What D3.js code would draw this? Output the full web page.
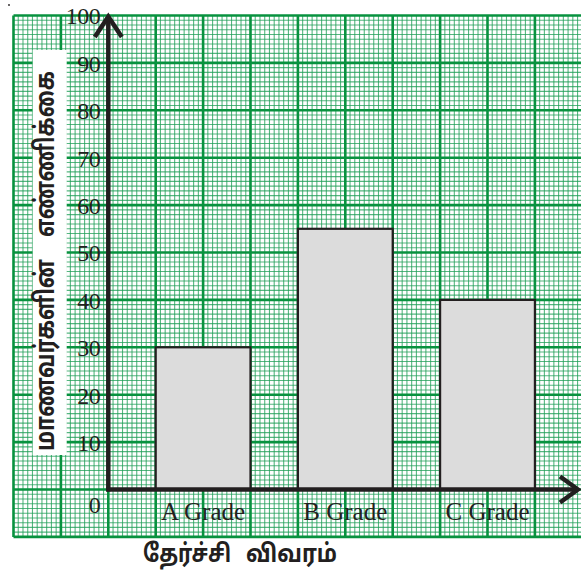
<!DOCTYPE html>
<html>
<head>
<meta charset="utf-8">
<script src="https://cdn.jsdelivr.net/npm/d3@7/dist/d3.min.js"></script>
<style>
  html, body { margin: 0; padding: 0; background: #fff; }
  svg { display: block; }
</style>
</head>
<body>
<svg id="chart" width="581" height="572"></svg>
<script>
// Grades and number of students
const categories = ["A Grade", "B Grade", "C Grade"];
const studentCounts = [30, 55, 40];
const yTickValues = [0, 10, 20, 30, 40, 50, 60, 70, 80, 90, 100];
const yTitleParts = ["மாணவர்களின்", "எண்ணிக்கை"];
const xTitleParts = ["தேர்ச்சி", "விவரம்"];

const svg = d3.select("#chart");
const ink = "#231f20";
const green = "#08923f";

// Value axis: 0 .. 100, one major graph-paper square per 10 students
const y = d3.scaleLinear().domain([0, 100]).range([489.5, 15.5]);
const cell = (y(0) - y(10));          // size of one major square
const axisX = 108.3;

// Category axis: each bar is two squares wide with one square between bars
const x = d3.scaleBand()
  .domain(categories)
  .range([axisX, axisX + 9 * cell])
  .paddingInner(1 / 3)
  .paddingOuter(1 / 6)
  .align(1);

// ---- graph paper ----
const gridLeft = axisX - 2 * cell;
const gridRight = 581;
const gridTop = y(100);
const gridBottom = y(0) + cell;
const grid = svg.append("g");

// minor lines, ten per square
const minorStep = cell / 10;
const nCols = Math.ceil((gridRight - gridLeft) / minorStep);
const nRows = Math.round((gridBottom - gridTop) / minorStep);
const minorX = d3.range(nCols + 1).filter(i => i % 10 !== 0).map(i => gridLeft + i * minorStep);
const minorY = d3.range(nRows + 1).filter(i => i % 10 !== 0).map(i => gridTop + i * minorStep);
grid.selectAll(".mx").data(minorX).join("line")
  .attr("x1", d => d).attr("x2", d => d)
  .attr("y1", gridTop).attr("y2", gridBottom)
  .attr("stroke", "#1e9e55").attr("stroke-opacity", 0.75).attr("stroke-width", 1.1);
grid.selectAll(".my").data(minorY).join("line")
  .attr("x1", gridLeft).attr("x2", gridRight)
  .attr("y1", d => d).attr("y2", d => d)
  .attr("stroke", "#1e9e55").attr("stroke-opacity", 0.75).attr("stroke-width", 1.1);

// major lines
const majorX = d3.range(0, nCols + 1, 10).map(i => gridLeft + i * minorStep);
const majorY = d3.range(0, nRows + 1, 10).map(i => gridTop + i * minorStep);
grid.selectAll(".Mx").data(majorX).join("line")
  .attr("x1", d => d).attr("x2", d => d)
  .attr("y1", gridTop).attr("y2", gridBottom)
  .attr("stroke", green).attr("stroke-width", 2.6);
grid.selectAll(".My").data(majorY).join("line")
  .attr("x1", gridLeft).attr("x2", gridRight)
  .attr("y1", d => d).attr("y2", d => d)
  .attr("stroke", green).attr("stroke-width", 2.6);

// ---- bars ----
svg.append("g").selectAll("rect")
  .data(categories.map((c, i) => ({ c, v: studentCounts[i] })))
  .join("rect")
  .attr("x", d => x(d.c))
  .attr("y", d => y(d.v))
  .attr("width", x.bandwidth())
  .attr("height", d => y(0) - y(d.v))
  .attr("fill", "#dcdcdc")
  .attr("stroke", ink)
  .attr("stroke-width", 2.2);

// ---- axes with arrow heads ----
const axes = svg.append("g").attr("stroke", ink).attr("fill", "none")
  .attr("stroke-width", 4.5);
axes.append("line").attr("x1", axisX).attr("x2", axisX)
  .attr("y1", y(0) + 2).attr("y2", y(100) + 1);
axes.append("polyline")
  .attr("points", `${axisX - 13.5},${y(100) + 21.5} ${axisX},${y(100) + 1} ${axisX + 13.5},${y(100) + 21.5}`)
  .attr("stroke-linejoin", "miter");
axes.append("line").attr("x1", axisX - 2).attr("x2", 578)
  .attr("y1", y(0)).attr("y2", y(0));
axes.append("polyline")
  .attr("points", `560,${y(0) - 13} 578,${y(0)} 560,${y(0) + 13}`)
  .attr("stroke-linejoin", "miter");

// ---- y tick labels ----
const yAxis = d3.axisLeft(y).tickValues(yTickValues).tickSize(0).tickPadding(0);
const yg = svg.append("g").attr("transform", `translate(${axisX - 8},0)`).call(yAxis);
yg.select(".domain").remove();
yg.selectAll("text")
  .attr("font-family", "'Liberation Serif', 'Times New Roman', serif")
  .attr("font-size", 24)
  .attr("fill", ink)
  .attr("letter-spacing", -0.5)
  .attr("dy", d => d === 0 ? "0.95em" : "0.35em");

// ---- x tick labels ----
svg.append("g").selectAll("text").data(categories).join("text")
  .attr("x", d => x(d) + x.bandwidth() / 2)
  .attr("y", y(0) + 30)
  .attr("text-anchor", "middle")
  .attr("font-family", "'Liberation Serif', 'Times New Roman', serif")
  .attr("font-size", 25)
  .attr("fill", ink)
  .text(d => d);

// ---- titles ----
svg.append("rect")
  .attr("x", 32.7).attr("y", 50).attr("width", 34).attr("height", 405)
  .attr("fill", "#fff");
const tamilFont = "'Noto Sans Tamil', 'Lohit Tamil', 'Noto Sans', sans-serif";
const yt = svg.append("g").attr("font-family", tamilFont).attr("font-weight", "bold")
  .attr("font-size", 27).attr("fill", ink);
// the two words sit apart along the axis
const yTitleSpans = [[451, 192], [237, 166]];
yt.selectAll("text").data(yTitleParts).join("text")
  .attr("transform", (d, i) => `translate(54,${yTitleSpans[i][0]}) rotate(-90)`)
  .attr("textLength", (d, i) => yTitleSpans[i][1])
  .attr("lengthAdjust", "spacingAndGlyphs")
  .text(d => d);

// x title: one line, two words with a wide gap
const xTitleSpans = [[143, 88], [246, 91]];
svg.append("text")
  .attr("y", 562)
  .attr("font-family", tamilFont).attr("font-weight", "bold")
  .attr("font-size", 25).attr("fill", ink)
  .selectAll("tspan").data(xTitleParts).join("tspan")
  .attr("x", (d, i) => xTitleSpans[i][0])
  .attr("textLength", (d, i) => xTitleSpans[i][1])
  .attr("lengthAdjust", "spacingAndGlyphs")
  .text(d => d);

// small mark at the top-left corner of the sheet
svg.append("circle").attr("cx", 9).attr("cy", 5).attr("r", 0.9).attr("fill", ink);
</script>
</body>
</html>
